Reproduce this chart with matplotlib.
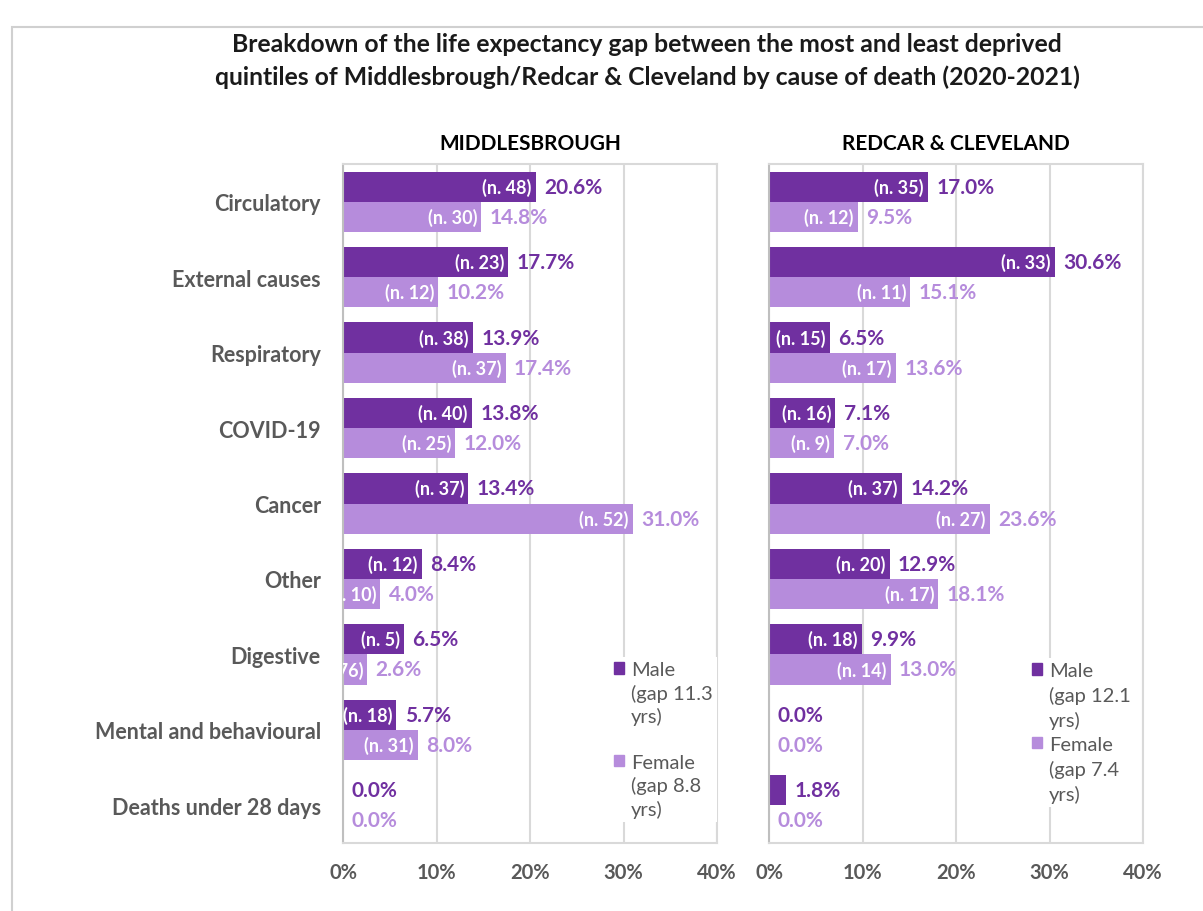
import matplotlib.pyplot as plt
from matplotlib.patches import Patch, Rectangle

plt.rcParams['font.family'] = ['Lato', 'DejaVu Sans']

causes = ["Circulatory", "External causes", "Respiratory", "COVID-19", "Cancer",
          "Other", "Digestive", "Mental and behavioural", "Deaths under 28 days"]

mid_male = [20.6, 17.7, 13.9, 13.8, 13.4, 8.4, 6.5, 5.7, 0.0]
mid_male_n = [48, 23, 38, 40, 37, 12, 5, 18, None]
mid_female = [14.8, 10.2, 17.4, 12.0, 31.0, 4.0, 2.6, 8.0, 0.0]
mid_female_n = [30, 12, 37, 25, 52, 10, 76, 31, None]

red_male = [17.0, 30.6, 6.5, 7.1, 14.2, 12.9, 9.9, 0.0, 1.8]
red_male_n = [35, 33, 15, 16, 37, 20, 18, None, None]
red_female = [9.5, 15.1, 13.6, 7.0, 23.6, 18.1, 13.0, 0.0, 0.0]
red_female_n = [12, 11, 17, 9, 27, 17, 14, None, None]

panels = [
    ("MIDDLESBROUGH", mid_male, mid_male_n, mid_female, mid_female_n, "11.3", "8.8"),
    ("REDCAR & CLEVELAND", red_male, red_male_n, red_female, red_female_n, "12.1", "7.4"),
]

MALE = "#7030a0"
FEMALE = "#b68cdc"
GREY = "#595959"
GRID = "#d9d9d9"

fig = plt.figure(figsize=(12.03, 9.12), dpi=100)

# outer chart border
fig.patches.append(Rectangle((12 / 1203, -0.1), 1.2, 1 - 28 / 912 + 0.1, transform=fig.transFigure,
                             fill=False, edgecolor="#d0d0d0", linewidth=1.5))

fig.text(0.538, 0.933, "Breakdown of the life expectancy gap between the most and least deprived\n"
         "quintiles of Middlesbrough/Redcar & Cleveland by cause of death (2020-2021)",
         ha="center", va="center", fontsize=17.8, fontweight="bold", color="#1a1a1a", linespacing=1.45)

lefts = [343 / 1203, 769 / 1203]
# legend anchor (x, y) in figure pixels and whether a spacer line sits between entries
legend_pos = [(600, 648, True), (1018, 649, False)]
ypos = list(range(len(causes)))
h = 0.4

for i, (title, male, male_n, female, female_n, gm, gf) in enumerate(panels):
    ax = fig.add_axes([lefts[i], 1 - 844 / 912, 374 / 1203, (844 - 165) / 912])
    mb = ax.barh([y - h / 2 for y in ypos], male, height=h, color=MALE, zorder=2)
    fb = ax.barh([y + h / 2 for y in ypos], female, height=h, color=FEMALE, zorder=2)
    ax.set_xlim(0, 40)
    ax.set_ylim(len(causes) - 0.5, -0.5)
    ax.set_xticks([0, 10, 20, 30, 40])
    ax.set_xticklabels(["0%", "10%", "20%", "30%", "40%"])
    ax.xaxis.grid(True, color=GRID, linewidth=1.5, zorder=0)
    ax.set_axisbelow(True)
    for s in ax.spines.values():
        s.set_color(GRID)
        s.set_linewidth(1.5)
    ax.spines["left"].set_color("#bfbfbf")
    ax.tick_params(axis="x", length=0, pad=14, labelsize=14.5, labelcolor=GREY)
    ax.tick_params(axis="y", length=0, pad=16, labelsize=15.5, labelcolor=GREY)
    for lab in ax.get_xticklabels() + ax.get_yticklabels():
        lab.set_fontweight("bold")
    if i == 0:
        ax.set_yticks(ypos)
        ax.set_yticklabels(causes)
    else:
        ax.set_yticks([])
    ax.set_title(title, fontsize=15, fontweight="bold", color="#000000", pad=11)

    for bars, vals, ns, col in [(mb, male, male_n, MALE), (fb, female, female_n, FEMALE)]:
        for bar, v, n in zip(bars, vals, ns):
            yc = bar.get_y() + bar.get_height() / 2
            ax.annotate(f"{v:.1f}%", (v, yc), xytext=(6, 0), textcoords="offset points",
                        ha="left", va="center", fontsize=15, fontweight="bold", color=col)
            if n is not None:
                ax.annotate(f"(n. {n})", (v, yc), xytext=(-3, 0), textcoords="offset points",
                            ha="right", va="center", fontsize=13, fontweight="bold",
                            color="white", clip_on=True)

    lx, ly, spacer = legend_pos[i]
    blank = Patch(color="none")
    handles = [Patch(color=MALE), blank, blank]
    labels = ["Male", f"(gap {gm}", "yrs)"]
    if spacer:
        handles.append(blank)
        labels.append(" ")
    handles += [Patch(color=FEMALE), blank, blank]
    labels += ["Female", f"(gap {gf}", "yrs)"]
    leg = ax.legend(handles=handles, labels=labels,
                    loc="upper left", bbox_to_anchor=(lx / 1203, 1 - ly / 912),
                    bbox_transform=fig.transFigure,
                    frameon=True, facecolor="white", edgecolor="none", framealpha=1,
                    fontsize=14.5, handlelength=0.5, handleheight=0.5, handletextpad=0.35,
                    labelspacing=0.28 if spacer else 0.34, borderpad=0.2, fancybox=False)
    for t in leg.get_texts():
        t.set_color(GREY)

fig.savefig("out.png", dpi=100)
